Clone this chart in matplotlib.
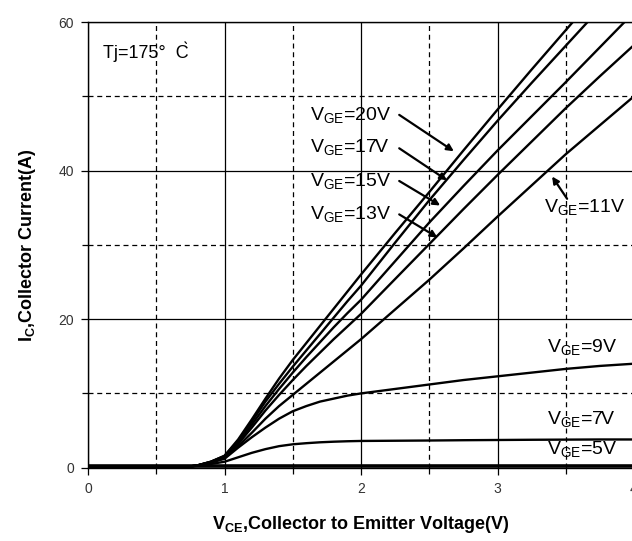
import matplotlib
matplotlib.use("Agg")
import matplotlib.pyplot as plt
from matplotlib.ticker import MultipleLocator

plt.rcParams['font.family'] = ['Liberation Sans', 'DejaVu Sans']

# ---- data ----
vce = [0.0, 0.6, 0.7, 0.8, 0.9, 1.0, 1.1, 1.2, 1.3, 1.4, 1.5, 1.6, 1.7, 1.8, 1.9, 2.0,
       2.25, 2.5, 2.75, 3.0, 3.25, 3.5, 3.75, 4.0]
ic_20 = [0, 0, 0.05, 0.3, 0.8, 1.6, 3.8, 6.5, 9.3, 12.0, 14.5, 16.8, 19.1, 21.4, 23.7, 26.0,
         31.6, 37.1, 42.7, 48.2, 53.6, 58.9, 64.2, 69.5]
ic_17 = [0, 0, 0.05, 0.3, 0.8, 1.6, 3.6, 6.2, 8.9, 11.3, 13.6, 15.8, 18.0, 20.2, 22.4, 24.5,
         30.3, 36.0, 41.4, 46.7, 51.8, 56.8, 61.8, 66.7]
ic_15 = [0, 0, 0.05, 0.3, 0.8, 1.5, 3.4, 5.8, 8.3, 10.6, 12.8, 14.9, 16.9, 18.9, 20.8, 22.6,
         27.8, 33.0, 37.9, 42.7, 47.3, 51.9, 56.6, 61.3]
ic_13 = [0, 0, 0.05, 0.3, 0.7, 1.4, 3.2, 5.4, 7.7, 9.8, 11.8, 13.7, 15.5, 17.3, 19.0, 20.7,
         25.4, 30.1, 34.8, 39.4, 43.9, 48.4, 52.7, 56.9]
ic_11 = [0, 0, 0.05, 0.3, 0.7, 1.3, 2.9, 4.7, 6.6, 8.3, 9.8, 11.3, 12.8, 14.3, 15.8, 17.3,
         21.3, 25.3, 29.5, 33.8, 38.0, 42.2, 46.1, 50.0]
ic_9 = [0, 0, 0.05, 0.3, 0.7, 1.2, 2.7, 4.1, 5.4, 6.6, 7.6, 8.3, 8.9, 9.3, 9.7, 10.0,
        10.6, 11.2, 11.8, 12.3, 12.8, 13.3, 13.7, 14.0]
ic_7 = [0, 0, 0.05, 0.25, 0.5, 0.8, 1.4, 2.0, 2.5, 2.9, 3.15, 3.3, 3.42, 3.5, 3.56, 3.6,
        3.63, 3.66, 3.7, 3.73, 3.76, 3.78, 3.8, 3.8]
ic_5 = [0.2] * len(vce)

curves = [ic_20, ic_17, ic_15, ic_13, ic_11, ic_9, ic_7]

labels = ["20V", "17V", "15V", "13V"]
label_text_xy = [(1.63, 47.4), (1.63, 43.0), (1.63, 38.5), (1.63, 34.1)]
arrow_tail = [(2.28, 47.5), (2.28, 43.0), (2.28, 38.6), (2.28, 34.1)]
arrow_head = [(2.68, 42.6), (2.63, 38.7), (2.58, 35.3), (2.56, 31.0)]

fig = plt.figure(figsize=(6.32, 5.41), dpi=100)
ax = fig.add_axes([88 / 632, 73.3 / 541, 546 / 632, 445.7 / 541])

for c in curves:
    ax.plot(vce, c, color='black', lw=1.7, solid_capstyle='butt')
ax.plot(vce, ic_5, color='black', lw=2.6)

ax.set_xlim(0, 4)
ax.set_ylim(0, 60)
ax.xaxis.set_major_locator(MultipleLocator(1))
ax.xaxis.set_minor_locator(MultipleLocator(0.5))
ax.yaxis.set_major_locator(MultipleLocator(20))
ax.yaxis.set_minor_locator(MultipleLocator(10))
ax.grid(which='major', color='black', lw=0.9, ls='-')
ax.grid(which='minor', color='black', lw=0.9, ls=(0, (4, 3)))
ax.set_axisbelow(True)
ax.tick_params(which='major', direction='out', length=5, width=0.9,
               labelsize=10, labelcolor='#333333', pad=5)
ax.tick_params(which='minor', direction='out', length=4, width=0.9)
for s in ax.spines.values():
    s.set_linewidth(1.0)
ax.spines['right'].set_visible(False)

ax.set_xlabel(r"V$_{\mathregular{CE}}$,Collector to Emitter Voltage(V)",
              fontsize=13, fontweight='bold', labelpad=13)
ax.set_ylabel(r"I$_{\mathregular{C}}$,Collector Current(A)",
              fontsize=13, fontweight='bold', labelpad=15)

ax.text(0.11, 56, "Tj=175°  C\u0300", fontsize=13, va='center', ha='left')

for lab, txy, t, h in zip(labels, label_text_xy, arrow_tail, arrow_head):
    ax.text(txy[0], txy[1], r"V$_{\mathregular{GE}}$=" + lab, fontsize=14,
            va='center', ha='left')
    ax.annotate("", xy=h, xytext=t,
                arrowprops=dict(arrowstyle='-|>', color='black', lw=1.6,
                                mutation_scale=10, shrinkA=0, shrinkB=0))

ax.text(3.34, 35.0, r"V$_{\mathregular{GE}}$=11V", fontsize=14, va='center', ha='left')
ax.annotate("", xy=(3.40, 39.2), xytext=(3.51, 36.2),
            arrowprops=dict(arrowstyle='-|>', color='black', lw=1.6,
                            mutation_scale=10, shrinkA=0, shrinkB=0))

ax.text(3.36, 16.1, r"V$_{\mathregular{GE}}$=9V", fontsize=14, va='center', ha='left')
ax.text(3.36, 6.4, r"V$_{\mathregular{GE}}$=7V", fontsize=14, va='center', ha='left')
ax.text(3.36, 2.4, r"V$_{\mathregular{GE}}$=5V", fontsize=14, va='center', ha='left')

fig.savefig("out.png", dpi=100)
